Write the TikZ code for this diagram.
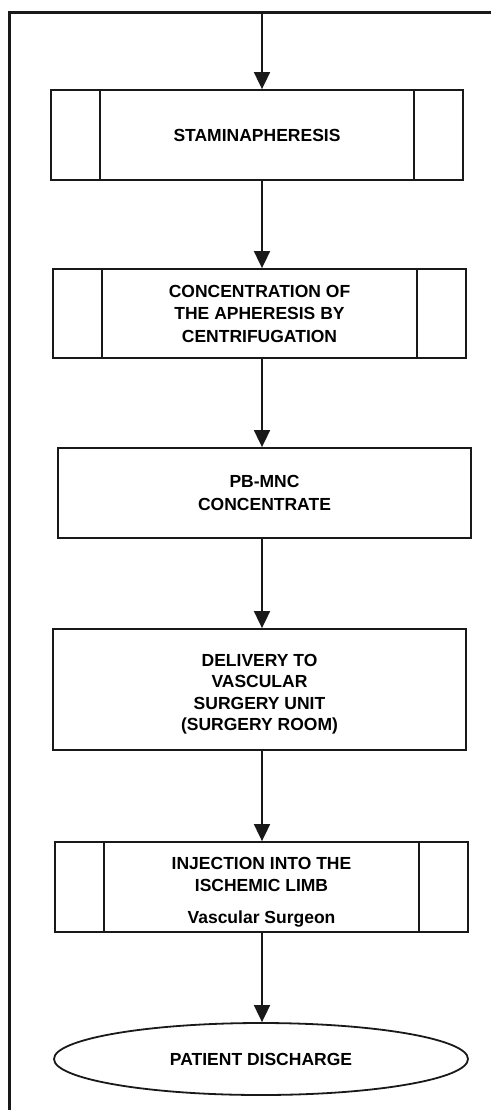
\documentclass[tikz,border=0pt]{standalone}
\usepackage{fontspec}
\setmainfont{Liberation Sans}
\usetikzlibrary{arrows.meta,shapes.geometric}
\tikzset{
  box/.style={draw=black!90, line width=1.8pt, rectangle, minimum width=413pt, align=center,
    font=\bfseries\fontsize{17.5}{22.5}\selectfont, inner sep=0pt},
  txt/.style={align=center, font=\bfseries\fontsize{17.5}{21.5}\selectfont, inner sep=0pt},
  ovalbox/.style={draw=black!90, line width=1.8pt, ellipse, minimum width=414pt, minimum height=72pt,
    font=\bfseries\fontsize{17.5}{22.5}\selectfont, inner sep=0pt},
  conn/.style={line width=1.8pt, draw=black!90, -{Triangle[width=16pt,length=17pt]}},
  frame/.style={line width=3pt, draw=black!90},
  inner/.style={line width=1.8pt, draw=black!90}
}
\begin{document}
\begin{tikzpicture}[x=1pt,y=-1pt]
\useasboundingbox (0,0) rectangle (491,1110);
\draw[frame] (9,1110) |- (491,12.5);
\coordinate (start) at (262,12.5);
\node[box, minimum width=412pt, minimum height=90pt] (b1) at (257,135) {STAMINAPHERESIS};
\node[box, minimum height=89pt] (b2) at (259.5,313.5) {CONCENTRATION OF\\THE APHERESIS BY\\CENTRIFUGATION};
\node[box, minimum height=90pt] (b3) at (264.5,493) {PB-MNC\\CONCENTRATE};
\node[box, minimum height=121pt] (b4) at (259.5,689.5) {};
\node[txt, yshift=-4.5pt] (t4) at (b4.center) {DELIVERY TO\\VASCULAR\\SURGERY UNIT\\(SURGERY ROOM)};
\node[box, minimum height=90pt] (b5) at (261.5,887) {};
\node[txt, yshift=-5.5pt] (t5) at (b5.center) {INJECTION INTO THE\\ISCHEMIC LIMB\\[11pt]Vascular Surgeon};
\node[ovalbox] (e) at (261,1059) {PATIENT DISCHARGE};
\foreach \n in {b1,b2,b5}{
  \draw[inner] ([xshift=50pt]\n.north west) -- ([xshift=50pt]\n.south west);
  \draw[inner] ([xshift=-50pt]\n.north east) -- ([xshift=-50pt]\n.south east);
}
\draw[conn] (start) -- (start |- b1.north);
\draw[conn] (b1.south -| start) -- (start |- b2.north);
\draw[conn] (b2.south -| start) -- (start |- b3.north);
\draw[conn] (b3.south -| start) -- (start |- b4.north);
\draw[conn] (b4.south -| start) -- (start |- b5.north);
\draw[conn] (b5.south -| start) -- (start |- e.north);
\end{tikzpicture}
\end{document}
